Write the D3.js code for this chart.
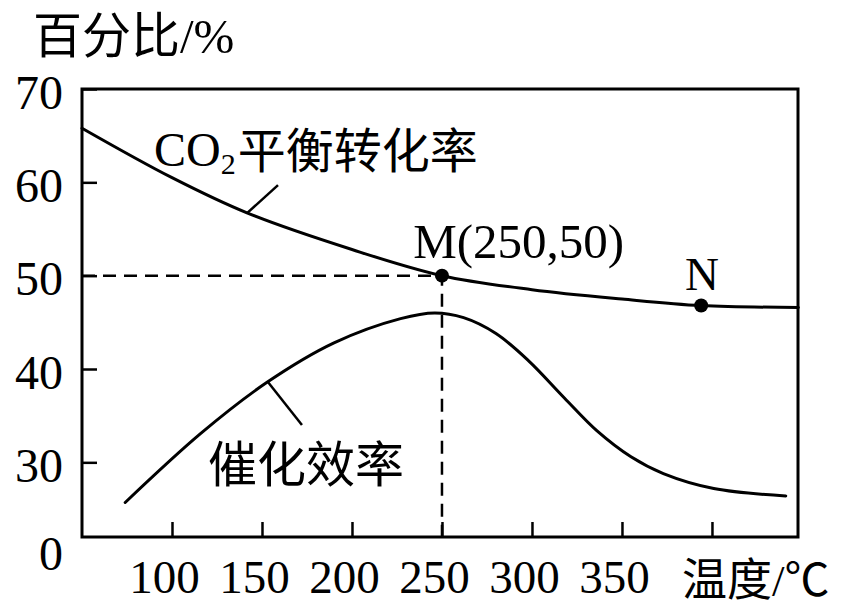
<!DOCTYPE html>
<html><head><meta charset="utf-8">
<script src="https://cdn.jsdelivr.net/npm/d3@7"></script>
<style>
body{margin:0;background:#fff;}
text{font-family:"Liberation Serif","Noto Sans CJK SC",serif;fill:#000;}
</style></head>
<body><svg id="c" width="849" height="607"></svg>
<script>
// Data
const co2Temp = [50, 100, 142, 200, 250, 300, 350, 394, 448];
const co2Val  = [65.8, 60.5, 56.7, 52.8, 50.0, 48.5, 47.5, 46.8, 46.6];
const catTemp = [74, 116, 153, 190, 227, 246, 262, 280, 298, 318, 336, 355, 373, 401, 441];
const catVal  = [25.7, 33.1, 38.6, 42.8, 45.4, 46.0, 45.5, 43.8, 40.9, 36.9, 33.4, 30.6, 28.8, 27.2, 26.4];
const xTicks = [100, 150, 200, 250, 300, 350, 400];
const xTickLabels = ["100", "150", "200", "250", "300", "350", ""];
const yTicks = [22, 30, 40, 50, 60, 70];
const yTickLabels = ["0", "30", "40", "50", "60", "70"];
const pointM = {t: 250, v: 50, label: "M(250,50)"};
const pointN = {t: 394, v: 46.8, label: "N"};

const svg = d3.select("#c");
const x = d3.scaleLinear().domain([50, 447.8]).range([82, 798]);
const y = d3.scaleLinear().domain([22, 70]).range([537, 89]);

// frame
svg.append("rect").attr("x", x(50)).attr("y", y(70))
  .attr("width", x(447.8) - x(50)).attr("height", y(22) - y(70))
  .attr("fill", "none").attr("stroke", "#000").attr("stroke-width", 3);

// x axis
const gx = svg.append("g").attr("transform", `translate(0,${y(22)})`)
  .call(d3.axisBottom(x).tickValues(xTicks).tickSize(-15).tickFormat((d, i) => xTickLabels[i]));
gx.attr("font-family", null);
gx.select(".domain").remove();
gx.selectAll(".tick line").attr("stroke", "#000").attr("stroke-width", 2.5);
gx.selectAll(".tick text").attr("y", 56).attr("dy", 0).attr("dx", -8)
  .attr("font-size", 47).attr("fill", "#000");

// y axis
const gy = svg.append("g").attr("transform", `translate(${x(50)},0)`)
  .call(d3.axisLeft(y).tickValues(yTicks).tickSize(-15).tickFormat((d, i) => yTickLabels[i]));
gy.attr("font-family", null);
gy.select(".domain").remove();
gy.selectAll(".tick line").attr("stroke", "#000").attr("stroke-width", 2.5)
  .attr("opacity", d => d === 22 ? 0 : 1);
gy.selectAll(".tick text").attr("x", -19).attr("dy", d => d === 22 ? "0.67em" : "0.4em")
  .attr("font-size", 48).attr("fill", "#000");

// dashed guides
svg.append("path")
  .attr("d", `M${x(50)},${y(pointM.v)}H${x(pointM.t)}V${y(22)}`)
  .attr("fill", "none").attr("stroke", "#000").attr("stroke-width", 2.5)
  .attr("stroke-dasharray", "13,8");

const line = d3.line().x(d => x(d[0])).y(d => y(d[1])).curve(d3.curveCatmullRom.alpha(0.5));
svg.append("path").datum(co2Temp.map((t, i) => [t, co2Val[i]]))
  .attr("d", line).attr("fill", "none").attr("stroke", "#000").attr("stroke-width", 3)
  .attr("stroke-linecap", "round");
svg.append("path").datum(catTemp.map((t, i) => [t, catVal[i]]))
  .attr("d", line).attr("fill", "none").attr("stroke", "#000").attr("stroke-width", 3)
  .attr("stroke-linecap", "round");

// leader lines
const leaders = [[[141.7, 56.7], [158.9, 59.7]], [[153.3, 38.6], [172.2, 34.0]]];
leaders.forEach(l => svg.append("line")
  .attr("x1", x(l[0][0])).attr("y1", y(l[0][1])).attr("x2", x(l[1][0])).attr("y2", y(l[1][1]))
  .attr("stroke", "#000").attr("stroke-width", 2.5));

// points
[pointM, pointN].forEach(p => svg.append("circle")
  .attr("cx", x(p.t)).attr("cy", y(p.v)).attr("r", 7).attr("fill", "#000"));

// labels
const co2 = svg.append("text").attr("x", x(90)).attr("y", y(61.75)).attr("font-size", 48);
co2.append("tspan").text("CO");
co2.append("tspan").text("2").attr("font-size", 30).attr("dy", 8);
co2.append("tspan").text("平衡转化率").attr("dy", -6).attr("dx", 2);

svg.append("text").attr("x", x(120)).attr("y", y(27.9)).attr("font-size", 49).text("催化效率");
svg.append("text").attr("x", x(234)).attr("y", y(51.9)).attr("font-size", 49).text(pointM.label);
svg.append("text").attr("x", x(385)).attr("y", y(48.5)).attr("font-size", 47).text(pointN.label);

svg.append("text").attr("x", 33).attr("y", 53).attr("font-size", 49).text("百分比/%");
svg.append("text").attr("x", 682).attr("y", 596).attr("font-size", 45).text("温度/℃");
</script></body></html>
